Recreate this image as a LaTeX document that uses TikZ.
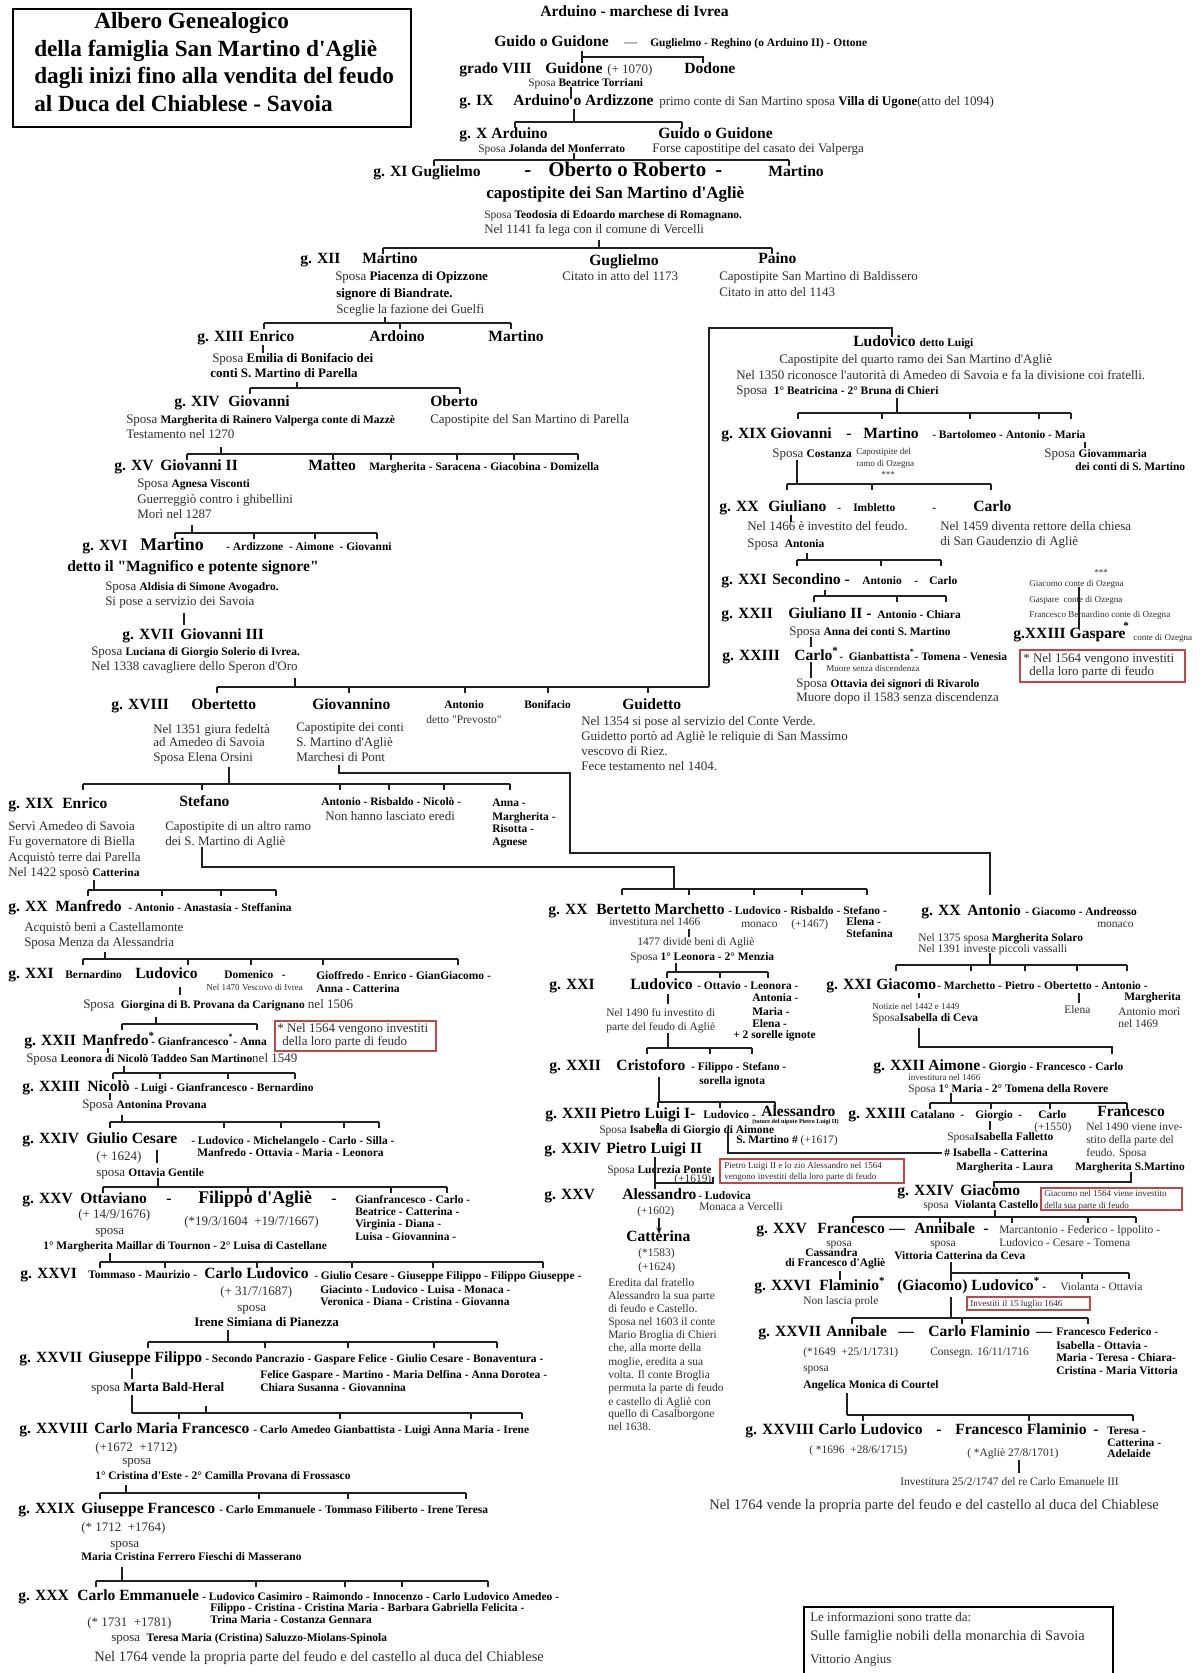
\documentclass[tikz,border=0pt]{standalone}
\usepackage{fontspec}
\setmainfont{Liberation Serif}[Ligatures=TeXOff]
\usetikzlibrary{arrows.meta}
\definecolor{txtgray}{HTML}{2E2E2E}
\definecolor{linegray}{HTML}{202020}
\definecolor{boxred}{HTML}{C04848}
\newcounter{tn}
\newcommand\T[4]{\stepcounter{tn}\node[#1] (t\arabic{tn}) at (#2,#3) {#4};}
\newcommand\bsm[1]{{\fontsize{8.6}{10}\selectfont\bfseries\color{black}#1}}
\newcommand\bmd[1]{{\fontsize{9.75}{12}\selectfont\bfseries\color{black}#1}}
\newcommand\sibs[4]{\draw[ln] (#2,#1)--(#3,#1); \foreach \q in {#4} {\draw[ln] (\q,#1)--(\q,#1+6);}}
\newcommand\vl[3]{\draw[ln] (#1,#2)--(#1,#3);}
\tikzset{
 every node/.style={inner sep=0pt, anchor=mid west},
 tit/.style={font=\fontsize{17.4}{20}\selectfont\bfseries},
 nm/.style={font=\fontsize{11.7}{14}\selectfont\bfseries},
 nmC/.style={font=\fontsize{12.8}{15}\selectfont\bfseries},
 nmM/.style={font=\fontsize{13.4}{16}\selectfont\bfseries},
 nmL/.style={font=\fontsize{15.7}{18}\selectfont\bfseries},
 bm/.style={font=\fontsize{9.75}{12}\selectfont\bfseries},
 sb/.style={font=\fontsize{8.6}{10}\selectfont\bfseries},
 tx/.style={font=\fontsize{9.75}{12}\selectfont, text=txtgray},
 ts/.style={font=\fontsize{8.6}{10}\selectfont, text=txtgray},
 tt/.style={font=\fontsize{6.8}{8}\selectfont, text=txtgray},
 ttt/.style={font=\fontsize{4.6}{5}\selectfont\bfseries},
 big/.style={font=\fontsize{10.9}{13}\selectfont, text=txtgray},
 ln/.style={line width=1.05pt, draw=linegray},
 redbox/.style={draw=boxred, line width=0.9pt},
}
\begin{document}
\begin{tikzpicture}[x=0.75pt,y=-0.75pt]
\useasboundingbox (0,0) rectangle (1200,1673);
\fill[white] (0,0) rectangle (1200,1673);
% ---------- title box
\draw[line width=1.3pt] (13,9) rectangle (411,127);
\T{tit}{94}{25}{Albero Genealogico}
\T{tit}{34}{53}{della famiglia San Martino d'Agliè}
\T{tit}{34}{80}{dagli inizi fino alla vendita del feudo}
\T{tit}{34}{108}{al Duca del Chiablese - Savoia}
% ---------- top generations
\T{nm}{540}{13}{Arduino - marchese di Ivrea}
\T{nm}{494}{43}{Guido o Guidone}
\T{tx}{624}{43}{—}
\T{sb}{650}{43}{Guglielmo - Reghino (o Arduino II) - Ottone}
\T{nm}{459}{70}{grado VIII}
\T{nm}{545}{70}{Guidone}
\T{tx}{607}{70}{(+ 1070)}
\T{nm}{684}{70}{Dodone}
\T{ts}{528}{83}{Sposa \bsm{Beatrice Torriani}}
\T{nm}{459}{102}{g. IX}
\T{nm}{513}{102}{Arduino o Ardizzone}
\T{tx}{659}{102}{primo conte di San Martino sposa \bmd{Villa di Ugone}(atto del 1094)}
\T{nm}{459}{135}{g. X Arduino}
\T{ts}{478}{149}{Sposa \bsm{Jolanda del Monferrato}}
\T{nm}{658}{135}{Guido o Guidone}
\T{tx}{652}{149}{Forse capostitipe del casato dei Valperga}
\T{nm}{373}{173}{g. XI Guglielmo}
\T{nmL}{524}{173}{-}
\T{nmL}{548}{173}{Oberto o Roberto}
\T{nmL}{715}{173}{-}
\T{nm}{768}{173}{Martino}
\T{nmC}{486}{195}{capostipite dei San Martino d'Agliè}
\T{ts}{484}{215}{Sposa \bsm{Teodosia di Edoardo marchese di Romagnano.}}
\T{tx}{484}{230}{Nel 1141 fa lega con il comune di Vercelli}
\T{nm}{300}{260}{g. XII}
\T{nm}{362}{260}{Martino}
\T{nm}{589}{262}{Guglielmo}
\T{nm}{758}{260}{Paino}
\T{tx}{335}{277}{Sposa \bmd{Piacenza di Opizzone}}
\T{bm}{336}{294}{signore di Biandrate.}
\T{tx}{336}{310}{Sceglie la fazione dei Guelfi}
\T{tx}{562}{277}{Citato in atto del 1173}
\T{tx}{719}{277}{Capostipite San Martino di Baldissero}
\T{tx}{719}{293}{Citato in atto del 1143}
% ---------- left branch
\T{nm}{197}{338}{g. XIII}
\T{nm}{249}{338}{Enrico}
\T{nm}{369}{338}{Ardoino}
\T{nm}{488}{338}{Martino}
\T{tx}{212}{359}{Sposa \bmd{Emilia di Bonifacio dei}}
\T{bm}{210}{374}{conti S. Martino di Parella}
\T{nm}{174}{403}{g. XIV}
\T{nm}{228}{403}{Giovanni}
\T{nm}{430}{403}{Oberto}
\T{tx}{126}{420}{Sposa \bsm{Margherita di Rainero Valperga conte di Mazzè}}
\T{tx}{126}{435}{Testamento nel 1270}
\T{tx}{430}{420}{Capostipite del San Martino di Parella}
\T{nm}{114}{467}{g. XV}
\T{nm}{160}{467}{Giovanni II}
\T{nm}{308}{467}{Matteo}
\T{sb}{369}{467}{Margherita - Saracena - Giacobina - Domizella}
\T{tx}{137}{484}{Sposa \bsm{Agnesa Visconti}}
\T{tx}{137}{500}{Guerreggiò contro i ghibellini}
\T{tx}{137}{515}{Morì nel 1287}
\T{nm}{82}{547}{g. XVI}
\T{nmM}{140}{547}{Martino}
\T{sb}{226}{547}{- Ardizzone \ - Aimone \ - Giovanni}
\T{nm}{67}{568}{detto il "Magnifico e potente signore"}
\T{tx}{105}{587}{Sposa \bsm{Aldisia di Simone Avogadro.}}
\T{tx}{105}{602}{Si pose a servizio dei Savoia}
\T{nm}{122}{636}{g. XVII}
\T{nm}{180}{636}{Giovanni III}
\T{tx}{91}{652}{Sposa \bsm{Luciana di Giorgio Solerio di Ivrea.}}
\T{tx}{91}{667}{Nel 1338 cavagliere dello Speron d'Oro}
\T{nm}{111}{706}{g. XVIII}
\T{nm}{191}{706}{Obertetto}
\T{nm}{312}{706}{Giovannino}
\T{sb}{444}{705}{Antonio}
\T{ts}{426}{720}{detto "Prevosto"}
\T{sb}{524}{705}{Bonifacio}
\T{nm}{622}{706}{Guidetto}
\T{tx}{153}{730}{Nel 1351 giura fedeltà}
\T{tx}{153}{743}{ad Amedeo di Savoia}
\T{tx}{153}{758}{Sposa Elena Orsini}
\T{tx}{296}{728}{Capostipite dei conti}
\T{tx}{296}{743}{S. Martino d'Agliè}
\T{tx}{296}{758}{Marchesi di Pont}
\T{tx}{581}{722}{Nel 1354 si pose al servizio del Conte Verde.}
\T{tx}{581}{737}{Guidetto portò ad Agliè le reliquie di San Massimo}
\T{tx}{581}{752}{vescovo di Riez.}
\T{tx}{581}{767}{Fece testamento nel 1404.}
\T{nm}{8}{805}{g. XIX}
\T{nm}{62}{805}{Enrico}
\T{nm}{179}{803}{Stefano}
\T{sb}{321}{802}{Antonio - Risbaldo - Nicolò -}
\T{tx}{325}{817}{Non hanno lasciato eredi}
\T{sb}{492}{803}{Anna -}
\T{sb}{492}{817}{Margherita -}
\T{sb}{492}{829}{Risotta -}
\T{sb}{492}{842}{Agnese}
\T{tx}{8}{827}{Servì Amedeo di Savoia}
\T{tx}{8}{842}{Fu governatore di Biella}
\T{tx}{8}{858}{Acquistò terre dai Parella}
\T{tx}{8}{873}{Nel 1422 sposò \bsm{Catterina}}
\T{tx}{165}{827}{Capostipite di un altro ramo}
\T{tx}{165}{842}{dei S. Martino di Agliè}
\T{nm}{8}{908}{g. XX}
\T{nm}{55}{908}{Manfredo}
\T{sb}{128}{908}{- Antonio - Anastasia - Steffanina}
\T{tx}{24}{928}{Acquistò beni a Castellamonte}
\T{tx}{24}{943}{Sposa Menza da Alessandria}
\T{nm}{8}{975}{g. XXI}
\T{sb}{65}{975}{Bernardino}
\T{nm}{135}{975}{Ludovico}
\T{sb}{224}{975}{Domenico \ \ -}
\T{tt}{206}{987}{Nel 1470 Vescovo di Ivrea}
\T{sb}{316}{976}{Gioffredo - Enrico - GianGiacomo -}
\T{sb}{316}{989}{Anna - Catterina}
\T{tx}{83}{1005}{Sposa \ \bsm{Giorgina di B. Provana da Carignano} nel 1506}
\draw[redbox] (275,1021) rectangle (436,1051);
\T{tx}{277}{1029}{* Nel 1564 vengono investiti}
\T{tx}{282}{1042}{della loro parte di feudo}
\T{nm}{24}{1042}{g. XXII}
\T{nm}{82}{1042}{Manfredo\textsuperscript{*}}
\T{sb}{151}{1042}{- Gianfrancesco\textsuperscript{*}- Anna}
\T{tx}{26}{1059}{Sposa \bsm{Leonora di Nicolò Taddeo San Martino}nel 1549}
\T{nm}{22}{1088}{g. XXIII}
\T{nm}{87}{1088}{Nicolò}
\T{sb}{134}{1088}{- Luigi - Gianfrancesco - Bernardino}
\T{tx}{82}{1105}{Sposa \bsm{Antonina Provana}}
\T{nm}{22}{1140}{g. XXIV}
\T{nm}{86}{1140}{Giulio Cesare}
\T{sb}{191}{1141}{- Ludovico - Michelangelo - Carlo - Silla -}
\T{sb}{197}{1153}{Manfredo - Ottavia - Maria - Leonora}
\T{tx}{96}{1157}{(+ 1624)}
\T{tx}{96}{1173}{sposa \bsm{Ottavia Gentile}}
\T{nm}{22}{1200}{g. XXV}
\T{nm}{80}{1200}{Ottaviano}
\T{nm}{166}{1200}{-}
\T{nmM}{198}{1200}{Filippo d'Agliè}
\T{nm}{331}{1200}{-}
\T{sb}{355}{1200}{Gianfrancesco - Carlo -}
\T{sb}{355}{1212}{Beatrice - Catterina -}
\T{sb}{355}{1224}{Virginia - Diana -}
\T{sb}{355}{1237}{Luisa - Giovannina -}
\T{tx}{78}{1215}{(+ 14/9/1676)}
\T{tx}{184}{1222}{(*19/3/1604 \ +19/7/1667)}
\T{tx}{95}{1231}{sposa}
\T{sb}{43}{1246}{1° Margherita Maillar di Tournon - 2° Luisa di Castellane}
\T{nm}{20}{1275}{g. XXVI}
\T{sb}{88}{1275}{Tommaso - Maurizio -}
\T{nm}{204}{1275}{Carlo Ludovico}
\T{sb}{314}{1276}{- Giulio Cesare - Giuseppe Filippo - Filippo Giuseppe -}
\T{tx}{220}{1292}{(+ 31/7/1687)}
\T{sb}{320}{1290}{Giacinto - Ludovico - Luisa - Monaca -}
\T{sb}{320}{1302}{Veronica - Diana - Cristina - Giovanna}
\T{tx}{237}{1308}{sposa}
\T{bm}{194}{1323}{Irene Simiana di Pianezza}
\T{nm}{19}{1359}{g. XXVII}
\T{nm}{88}{1359}{Giuseppe Filippo}
\T{sb}{205}{1359}{- Secondo Pancrazio - Gaspare Felice - Giulio Cesare - Bonaventura -}
\T{sb}{260}{1375}{Felice Gaspare - Martino - Maria Delfina - Anna Dorotea -}
\T{sb}{260}{1388}{Chiara Susanna - Giovannina}
\T{tx}{91}{1388}{sposa \bmd{Marta Bald-Heral}}
\T{nm}{19}{1430}{g. XXVIII}
\T{nm}{94}{1430}{Carlo Maria Francesco}
\T{sb}{253}{1430}{- Carlo Amedeo Gianbattista - Luigi Anna Maria - Irene}
\T{tx}{95}{1448}{(+1672 \ +1712)}
\T{tx}{122}{1461}{sposa}
\T{sb}{95}{1476}{1° Cristina d'Este - 2° Camilla Provana di Frossasco}
\T{nm}{18}{1510}{g. XXIX}
\T{nm}{81}{1510}{Giuseppe Francesco}
\T{sb}{219}{1510}{- Carlo Emmanuele - Tommaso Filiberto - Irene Teresa}
\T{tx}{81}{1528}{(* 1712 \ +1764)}
\T{tx}{110}{1544}{sposa}
\T{sb}{81}{1557}{Maria Cristina Ferrero Fieschi di Masserano}
\T{nm}{18}{1597}{g. XXX}
\T{nm}{77}{1597}{Carlo Emmanuele}
\T{sb}{202}{1597}{- Ludovico Casimiro - Raimondo - Innocenzo - Carlo Ludovico Amedeo -}
\T{sb}{210}{1608}{Filippo - Cristina - Cristina Maria - Barbara Gabriella Felicita -}
\T{sb}{210}{1620}{Trina Maria - Costanza Gennara}
\T{tx}{87}{1623}{(* 1731 \ +1781)}
\T{tx}{111}{1638}{sposa \ \bsm{Teresa Maria (Cristina) Saluzzo-Miolans-Spinola}}
\T{big}{94}{1658}{Nel 1764 vende la propria parte del feudo e del castello al duca del Chiablese}
% ---------- right: Ludovico branch
\T{nm}{853}{343}{Ludovico \bsm{detto Luigi}}
\T{tx}{779}{360}{Capostipite del quarto ramo dei San Martino d'Agliè}
\T{tx}{736}{376}{Nel 1350 riconosce l'autorità di Amedeo di Savoia e fa la divisione coi fratelli.}
\T{tx}{736}{391}{Sposa \ \bsm{1° Beatricina - 2° Bruna di Chieri}}
\T{nm}{721}{435}{g. XIX}
\T{nm}{770}{435}{Giovanni}
\T{nm}{846}{435}{-}
\T{nm}{863}{435}{Martino}
\T{sb}{932}{435}{- Bartolomeo - Antonio - Maria}
\T{tx}{772}{454}{Sposa \bsm{Costanza}}
\T{tt}{856}{451}{Capostipite del}
\T{tt}{856}{463}{ramo di Ozegna}
\T{tt}{881}{474}{***}
\T{tx}{1044}{454}{Sposa \bsm{Giovammaria}}
\T{sb}{1075}{467}{dei conti di S. Martino}
\T{nm}{719}{508}{g. XX}
\T{nm}{768}{508}{Giuliano}
\T{sb}{837}{508}{-}
\T{sb}{853}{508}{Imbletto}
\T{sb}{932}{508}{-}
\T{nm}{973}{508}{Carlo}
\T{tx}{747}{527}{Nel 1466 è investito del feudo.}
\T{tx}{747}{544}{Sposa \ \bsm{Antonia}}
\T{tx}{940}{527}{Nel 1459 diventa rettore della chiesa}
\T{tx}{940}{542}{di San Gaudenzio di Agliè}
\T{nm}{721}{581}{g. XXI}
\T{nm}{772}{581}{Secondino -}
\T{sb}{862}{581}{Antonio}
\T{sb}{914}{581}{-}
\T{sb}{929}{581}{Carlo}
\T{nm}{721}{615}{g. XXII}
\T{nm}{788}{615}{Giuliano II -}
\T{sb}{877}{615}{Antonio - Chiara}
\T{tx}{789}{632}{Sposa \bsm{Anna dei conti S. Martino}}
\T{nm}{722}{657}{g. XXIII}
\T{nm}{794}{657}{Carlo\textsuperscript{*}}
\T{sb}{839}{657}{- \ Gianbattista\textsuperscript{*}- Tomena - Venesia}
\T{tt}{826}{668}{Muore senza discendenza}
\T{tx}{796}{684}{Sposa \bsm{Ottavia dei signori di Rivarolo}}
\T{tx}{796}{698}{Muore dopo il 1583 senza discendenza}
\T{tt}{1094}{572}{***}
\T{tt}{1029}{583}{Giacomo conte di Ozegna}
\T{tt}{1029}{599}{Gaspare \ conte di Ozegna}
\T{tt}{1029}{614}{Francesco Bernardino conte di Ozegna}
\T{nm}{1013}{635}{g.XXIII Gaspare}
\T{nm}{1123}{632}{\textsuperscript{*}}
\T{tt}{1133}{637}{conte di Ozegna}
\draw[redbox] (1020,650) rectangle (1185,682);
\T{tx}{1023}{659}{* Nel 1564 vengono investiti}
\T{tx}{1029}{672}{della loro parte di feudo}
% ---------- Bertetto branch
\T{nm}{548}{911}{g. XX}
\T{nm}{596}{911}{Bertetto Marchetto}
\T{sb}{728}{911}{- Ludovico - Risbaldo - Stefano -}
\T{ts}{609}{922}{investitura nel 1466}
\T{ts}{741}{924}{monaco}
\T{ts}{791}{924}{(+1467)}
\T{sb}{846}{922}{Elena -}
\T{sb}{846}{934}{Stefanina}
\T{ts}{637}{942}{1477 divide beni di Agliè}
\T{ts}{630}{957}{Sposa \bsm{1° Leonora - 2° Menzia}}
\T{nm}{549}{986}{g. XXI}
\T{nm}{630}{986}{Ludovico}
\T{sb}{697}{986}{- Ottavio - Leonora -}
\T{sb}{752}{998}{Antonia -}
\T{sb}{752}{1012}{Maria -}
\T{sb}{752}{1024}{Elena -}
\T{sb}{733}{1035}{+ 2 sorelle ignote}
\T{ts}{606}{1013}{Nel 1490 fu investito di}
\T{ts}{606}{1027}{parte del feudo di Agliè}
\T{nm}{549}{1067}{g. XXII}
\T{nm}{616}{1067}{Cristoforo}
\T{sb}{691}{1067}{- Filippo - Stefano -}
\T{sb}{699}{1081}{sorella ignota}
\T{nm}{545}{1115}{g. XXII}
\T{nm}{600}{1115}{Pietro Luigi I-}
\T{sb}{703}{1115}{Ludovico -}
\T{nm}{761}{1113}{Alessandro}
\T{ttt}{752}{1120}{(tutore del nipote Pietro Luigi II)}
\T{ts}{599}{1130}{Sposa \bsm{Isabella di Giorgio di Aimone}}
\T{ts}{736}{1140}{\bsm{S. Martino \#} (+1617)}
\T{nm}{544}{1150}{g. XXIV}
\T{nm}{606}{1150}{Pietro Luigi II}
\T{ts}{607}{1170}{Sposa \bsm{Lucrezia Ponte}}
\T{ts}{674}{1179}{(+1619)}
\draw[redbox] (720,1159) rectangle (904,1183);
\T{tt}{724}{1165}{Pietro Luigi II e lo zio Alessandro nel 1564}
\T{tt}{724}{1176}{vengono investiti della loro parte di feudo}
\T{nm}{544}{1196}{g. XXV}
\T{nm}{622}{1196}{Alessandro}
\T{sb}{698}{1196}{- Ludovica}
\T{ts}{699}{1207}{Monaca a Vercelli}
\T{ts}{637}{1211}{(+1602)}
\T{nm}{626}{1238}{Catterina}
\T{ts}{638}{1253}{(*1583)}
\T{ts}{638}{1267}{(+1624)}
\T{ts}{608}{1283}{Eredita dal fratello}
\T{ts}{608}{1296}{Alessandro la sua parte}
\T{ts}{608}{1309}{di feudo e Castello.}
\T{ts}{608}{1322}{Sposa nel 1603 il conte}
\T{ts}{608}{1335}{Mario Broglia di Chieri}
\T{ts}{608}{1348}{che, alla morte della}
\T{ts}{608}{1362}{moglie, eredita a sua}
\T{ts}{608}{1375}{volta. Il conte Broglia}
\T{ts}{608}{1388}{permuta la parte di feudo}
\T{ts}{608}{1402}{e castello di Agliè con}
\T{ts}{608}{1414}{quello di Casalborgone}
\T{ts}{608}{1427}{nel 1638.}
% ---------- Antonio branch
\T{nm}{921}{912}{g. XX}
\T{nm}{967}{912}{Antonio}
\T{sb}{1025}{912}{- Giacomo - Andreosso}
\T{ts}{1097}{924}{monaco}
\T{ts}{918}{938}{Nel 1375 sposa \bsm{Margherita Solaro}}
\T{ts}{918}{949}{Nel 1391 investe piccoli vassalli}
\T{nm}{826}{986}{g. XXI}
\T{nm}{876}{986}{Giacomo}
\T{sb}{937}{986}{- Marchetto - Pietro - Obertetto - Antonio -}
\T{sb}{1124}{997}{Margherita}
\T{ts}{1064}{1010}{Elena}
\T{ts}{1118}{1012}{Antonio morì}
\T{ts}{1118}{1024}{nel 1469}
\T{tt}{872}{1006}{Notizie nel 1442 e 1449}
\T{ts}{872}{1018}{Sposa\bsm{Isabella di Ceva}}
\T{nm}{873}{1067}{g. XXII}
\T{nm}{928}{1067}{Aimone}
\T{sb}{982}{1067}{- Giorgio - Francesco - Carlo}
\T{tt}{908}{1077}{investitura nel 1466}
\T{ts}{908}{1089}{Sposa \bsm{1° Maria - 2° Tomena della Rovere}}
\T{nm}{848}{1115}{g. XXIII}
\T{sb}{910}{1115}{Catalano}
\T{sb}{960}{1115}{-}
\T{sb}{975}{1115}{Giorgio}
\T{sb}{1018}{1115}{-}
\T{sb}{1038}{1115}{Carlo}
\T{nm}{1097}{1113}{Francesco}
\T{ts}{1034}{1127}{(+1550)}
\T{ts}{1086}{1127}{Nel 1490 viene inve-}
\T{ts}{1086}{1140}{stito della parte del}
\T{ts}{1086}{1153}{feudo. Sposa}
\T{sb}{1075}{1167}{Margherita S.Martino}
\T{ts}{947}{1137}{Sposa\bsm{Isabella Falletto}}
\T{sb}{944}{1153}{\# Isabella - Catterina}
\T{sb}{956}{1167}{Margherita - Laura}
\T{nm}{897}{1192}{g. XXIV}
\T{nm}{960}{1192}{Giacomo}
\T{ts}{923}{1205}{sposa \ \bsm{Violanta Castello}}
\draw[redbox] (1041,1188) rectangle (1182,1210);
\T{tt}{1044}{1193}{Giacomo nel 1564 viene investito}
\T{tt}{1044}{1205}{della sua parte di feudo}
\T{nm}{756}{1230}{g. XXV}
\T{nm}{817}{1230}{Francesco}
\T{nm}{889}{1230}{—}
\T{nm}{914}{1230}{Annibale}
\T{nm}{983}{1230}{-}
\T{ts}{999}{1230}{Marcantonio - Federico - Ippolito -}
\T{ts}{999}{1243}{Ludovico - Cesare - Tomena}
\T{ts}{826}{1243}{sposa}
\T{sb}{805}{1253}{Cassandra}
\T{sb}{785}{1263}{di Francesco d'Agliè}
\T{ts}{930}{1243}{sposa}
\T{sb}{894}{1256}{Vittoria Catterina da Ceva}
\T{nm}{754}{1287}{g. XXVI}
\T{nm}{819}{1287}{Flaminio\textsuperscript{*}}
\T{nm}{897}{1287}{(Giacomo) Ludovico\textsuperscript{*}}
\T{sb}{1042}{1287}{-}
\T{ts}{1060}{1287}{Violanta - Ottavia}
\T{ts}{803}{1301}{Non lascia prole}
\draw[redbox] (967,1297) rectangle (1090,1310);
\T{tt}{970}{1303}{Investiti il 15 luglio 1646}
\T{nm}{758}{1333}{g. XXVII}
\T{nm}{826}{1333}{Annibale}
\T{nm}{898}{1333}{—}
\T{nm}{928}{1333}{Carlo Flaminio}
\T{nm}{1036}{1333}{—}
\T{sb}{1056}{1332}{Francesco Federico -}
\T{sb}{1056}{1346}{Isabella - Ottavia -}
\T{sb}{1056}{1358}{Maria - Teresa - Chiara-}
\T{sb}{1056}{1371}{Cristina - Maria Vittoria}
\T{ts}{803}{1352}{(*1649 \ +25/1/1731)}
\T{ts}{930}{1352}{Consegn. 16/11/1716}
\T{ts}{803}{1368}{sposa}
\T{sb}{803}{1385}{Angelica Monica di Courtel}
\T{nm}{745}{1431}{g. XXVIII}
\T{nm}{818}{1431}{Carlo Ludovico}
\T{nm}{936}{1431}{-}
\T{nm}{955}{1431}{Francesco Flaminio}
\T{nm}{1093}{1431}{-}
\T{sb}{1107}{1431}{Teresa -}
\T{sb}{1107}{1443}{Catterina -}
\T{sb}{1107}{1454}{Adelaide}
\T{ts}{809}{1450}{( *1696 \ +28/6/1715)}
\T{ts}{967}{1453}{( *Agliè 27/8/1701)}
\T{ts}{900}{1482}{Investitura 25/2/1747 del re Carlo Emanuele III}
\T{big}{709}{1506}{Nel 1764 vende la propria parte del feudo e del castello al duca del Chiablese}
% ---------- source box
\draw[line width=0.9pt] (804,1673)--(804,1607)--(1113,1607)--(1113,1673);
\T{tx}{810}{1618}{Le informazioni sono tratte da:}
\T{big}{810}{1637}{Sulle famiglie nobili della monarchia di Savoia}
\T{tx}{810}{1660}{Vittorio Angius}
% ---------- connectors (left / centre)
\vl{582}{51}{63} \draw[ln] (582,57)--(703,57)--(703,63);
\vl{571}{87}{99} \vl{574}{109}{122}
\sibs{122}{515}{682}{515,682}
\vl{574}{153}{160}
\sibs{160}{434}{789}{434,789}
\vl{599}{240}{248}
\sibs{248}{383}{772}{383,772}
\vl{385}{317}{323}
\sibs{323}{264}{511}{264,400,511}
\vl{263}{345}{353}
\vl{297}{382}{388}
\sibs{388}{250}{460}{250,460}
\vl{221}{447}{454}
\sibs{454}{187}{578}{187,333,391,457,514,578}
\vl{192}{525}{533}
\sibs{533}{175}{377}{175,254,315,377}
\vl{184}{613}{625}
\vl{295}{678}{687}
\sibs{687}{217}{709}{217,349,465,548,648}
\draw[ln] (709,687)--(709,328)--(892,328)--(892,337);
\vl{229}{767}{784}
\sibs{784}{83}{510}{83,202,340,389,444,510}
\draw[ln] (339,765)--(339,773)--(570,773)--(570,853)--(990,853)--(990,895);
\draw[ln] (202,847)--(202,867)--(674,867)--(674,889);
\sibs{889}{622}{867}{622,689,754,802,867}
\vl{94}{880}{890}
\sibs{890}{88}{276}{88,162,221,276}
\vl{105}{952}{959}
\sibs{959}{83}{458}{83,188,251,323,458}
\vl{180}{987}{995}
\vl{156}{1017}{1024}
\sibs{1024}{122}{257}{122,257}
\vl{108}{1048}{1053}
\vl{124}{1066}{1073}
\sibs{1073}{113}{295}{113,160,228,295}
\vl{110}{1093}{1100}
\vl{122}{1115}{1122}
\sibs{1122}{110}{379}{110,224,281,344,379}
\vl{157}{1150}{1163}
\vl{158}{1178}{1187}
\sibs{1187}{103}{447}{103,248,391,447}
\vl{110}{1253}{1262}
\sibs{1262}{100}{543}{100,165,257,352,433,543}
\vl{228}{1330}{1342}
\sibs{1342}{148}{497}{148,265,348,434,497}
\vl{132}{1368}{1379}
\vl{132}{1395}{1413}
\vl{206}{1406}{1413}
\sibs{1413}{132}{522}{179,340,471,522}
\vl{126}{1485}{1493}
\sibs{1493}{100}{466}{100,259,348,466}
\vl{122}{1567}{1581}
\sibs{1581}{96}{488}{96,256,345,402,488}
% ---------- connectors (right)
\vl{897}{398}{413}
\sibs{413}{798}{1071}{798,882,970,1039,1071}
\vl{1085}{442}{448}
\vl{797}{460}{484}
\sibs{484}{787}{991}{787,872,991}
\vl{791}{515}{522}
\vl{807}{553}{560}
\sibs{560}{797}{941}{797,881,941}
\vl{825}{590}{596}
\sibs{596}{814}{946}{814,897,946}
\vl{811}{637}{647}
\vl{811}{662}{678}
\vl{1079}{587}{628}
\vl{689}{929}{937}
\vl{676}{963}{972}
\sibs{972}{667}{768}{667,720,768}
\vl{668}{994}{1004}
\vl{668}{1033}{1048}
\sibs{1048}{647}{752}{647,710,752}
\vl{659}{1077}{1102}
\sibs{1102}{658}{775}{658,720,775}
\vl{658}{1123}{1131}
\vl{655}{1157}{1189}
\draw[ln] (655,1183)--(713,1183)--(713,1177);
\draw[ln,-{Stealth[length=5pt,width=4pt]}] (659,1218)--(659,1234);
\draw[ln] (728,1130)--(728,1153)--(942,1153);
\vl{990}{953}{965}
\sibs{965}{896}{1127}{896,971,1025,1077,1127}
\vl{1079}{993}{1003}
\vl{919}{993}{998}
\draw[ln] (919,1028)--(919,1047)--(1112,1047)--(1112,1054);
\vl{951}{1093}{1103}
\sibs{1103}{930}{1127}{930,991,1050,1127}
\vl{990}{1121}{1130}
\draw[ln] (1131,1172)--(1131,1182)--(994,1182)--(994,1187);
\vl{995}{1210}{1217}
\sibs{1217}{853}{1136}{853,940,1012,1088,1136}
\vl{951}{1262}{1281}
\sibs{1273}{951}{1129}{1082,1129}
\vl{840}{1271}{1280}
\vl{951}{1297}{1318}
\sibs{1318}{852}{1088}{852,962,1088}
\vl{847}{1393}{1415}
\sibs{1415}{847}{1133}{863,1029,1133}
\vl{1019}{1460}{1473}
\end{tikzpicture}
\end{document}
